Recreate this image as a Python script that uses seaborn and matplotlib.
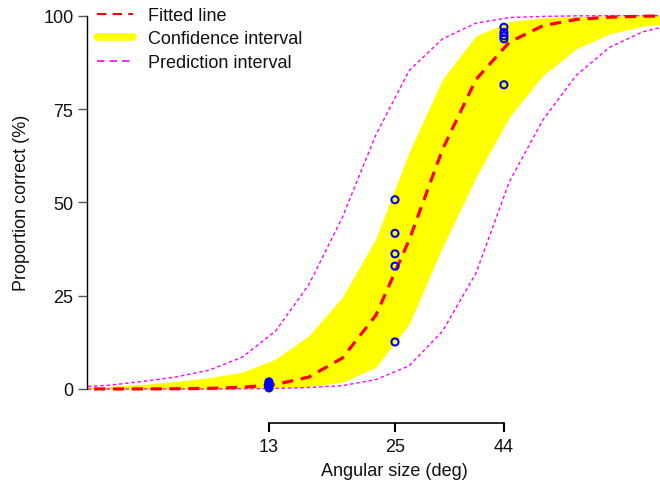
import matplotlib
matplotlib.use("Agg")
import matplotlib.pyplot as plt
from matplotlib.lines import Line2D
from matplotlib.ticker import NullLocator, FixedLocator
import seaborn as sns

# Evaluation grid of angular sizes (deg), quarter steps in log2
size_grid = [4.76, 5.66, 6.73, 8.00, 9.51, 11.31, 13.45, 16.00, 19.03, 22.63,
             26.91, 32.00, 38.05, 45.25, 53.82, 64.00, 76.11, 90.51, 107.63]

# Fitted psychometric function (% correct)
fitted = [0.003, 0.01, 0.02, 0.06, 0.17, 0.45, 1.2, 3.2, 8.3, 19.7,
          39.9, 64.2, 82.9, 92.9, 97.3, 99.0, 99.6, 99.86, 99.95]

# Confidence band of the fit
ci_lower = [0.0, 0.0, 0.0, 0.01, 0.03, 0.08, 0.25, 0.7, 1.8, 5.8,
            17.4, 38.0, 56.7, 72.8, 83.9, 91.1, 95.1, 97.2, 98.3]
ci_upper = [0.4, 0.7, 1.2, 2.0, 3.0, 4.5, 8.0, 14.3, 24.6, 40.2,
            63.5, 83.0, 94.6, 98.4, 99.4, 99.8, 99.9, 100.0, 100.0]

# Prediction band
pi_lower = [0.0, 0.0, 0.0, 0.01, 0.02, 0.05, 0.15, 0.4, 0.9, 2.5,
            6.2, 15.5, 31.0, 55.5, 72.0, 84.0, 91.5, 95.7, 97.8]
pi_upper = [0.5, 1.0, 2.0, 3.2, 5.0, 8.5, 15.5, 28.0, 46.0, 68.0,
            85.3, 93.8, 98.0, 99.5, 99.8, 99.95, 100.0, 100.0, 100.0]

# Observed proportions per tested size
obs_size = [13, 13, 13, 13, 13, 25, 25, 25, 25, 25, 44, 44, 44, 44, 44]
obs_pct = [0.3, 0.7, 1.1, 1.5, 1.9,
           12.6, 32.9, 36.2, 41.7, 50.7,
           81.5, 93.8, 94.6, 95.5, 96.9]

x_ticks = [13, 25, 44]
x_tick_labels = ["13", "25", "44"]
y_ticks = [0, 25, 50, 75, 100]

sns.set_style("white")
plt.rcParams["font.family"] = ["Liberation Sans", "DejaVu Sans"]
plt.rcParams["font.size"] = 13
plt.rcParams["text.color"] = "#111111"

fig = plt.figure(figsize=(6.6, 4.85), dpi=100)
ax = fig.add_axes([0.1314, 0.1882, 0.8686, 0.7851])
ax.set_xscale("log")

ax.fill_between(size_grid, ci_lower, ci_upper, color="#ffff00", lw=0, zorder=1)

for band in (pi_upper, pi_lower):
    sns.lineplot(x=size_grid, y=band, ax=ax, color="#ff00ff", lw=1.0,
                 estimator=None, sort=False, zorder=2)
    ax.lines[-1].set_dashes((2.5, 2))

sns.lineplot(x=size_grid, y=fitted, ax=ax, color="#ff0000", lw=2.3,
             estimator=None, sort=False, zorder=3)
ax.lines[-1].set_dashes((3.5, 2.4))

sns.scatterplot(x=obs_size, y=obs_pct, ax=ax, marker="o", s=26,
                facecolor="none", edgecolor="#0000ff", linewidth=1.5,
                zorder=4)

ax.set_xlim(5.05, 98.9)
ax.set_ylim(-1, 101)

ax.xaxis.set_major_locator(FixedLocator(x_ticks))
ax.xaxis.set_minor_locator(NullLocator())
ax.set_xticklabels(x_tick_labels)
ax.set_yticks(y_ticks)
ax.set_yticklabels([str(v) for v in y_ticks])

for side in ("top", "right"):
    ax.spines[side].set_visible(False)
ax.spines["left"].set_bounds(0, 100)
ax.spines["left"].set_color("black")
ax.spines["left"].set_linewidth(1.0)
ax.spines["bottom"].set_bounds(13, 44)
ax.spines["bottom"].set_position(("outward", 21.8))
ax.spines["bottom"].set_color("black")
ax.spines["bottom"].set_linewidth(1.2)

ax.tick_params(axis="x", which="major", bottom=True, direction="out",
               length=6.5, width=1.5, color="black", labelcolor="#111111",
               pad=4, labelsize=13)
ax.tick_params(axis="y", which="major", left=True, direction="out",
               length=6.3, width=1.0, color="#555555", labelcolor="#111111",
               pad=3.3, labelsize=13)

ax.set_xlabel("Angular size (deg)", fontsize=13, color="#111111")
ax.set_ylabel("Proportion correct (%)", fontsize=13, color="#111111")
ax.xaxis.set_label_coords(0.536, -0.182)
ax.yaxis.set_label_coords(-0.099, 0.5)

handles = [
    Line2D([], [], color="#ff0000", lw=1.5, dashes=(4.5, 3)),
    Line2D([], [], color="#ffff00", lw=5.5),
    Line2D([], [], color="#ff00ff", lw=1.2, dashes=(4.5, 3)),
]
labels = ["Fitted line", "Confidence interval", "Prediction interval"]
fig.legend(handles, labels, loc="upper left",
           bbox_to_anchor=(97 / 660, 1 - 8 / 485), frameon=False,
           borderpad=0, borderaxespad=0, handlelength=2.0,
           handletextpad=0.8, labelspacing=0.36, fontsize=13)

fig.savefig("out.png", dpi=100)
